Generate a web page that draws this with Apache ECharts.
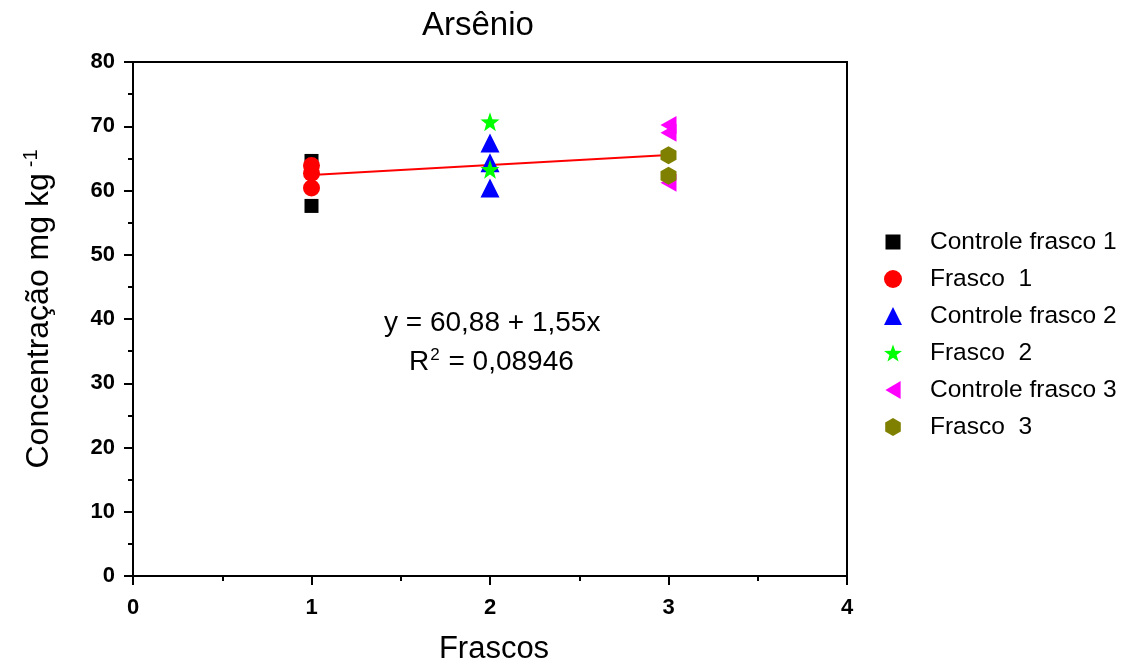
<!DOCTYPE html>
<html>
<head>
<meta charset="utf-8">
<script src="https://cdn.jsdelivr.net/npm/echarts@6/dist/echarts.min.js"></script>
<style>
  html, body { margin: 0; padding: 0; background: #fff; }
  #chart { width: 1129px; height: 668px; }
</style>
</head>
<body>
<div id="chart"></div>
<script>
// Arsenic concentration per flask (mg/kg)
const controleFrasco1 = [[1, 64.6], [1, 57.6]];
const frasco1 = [[1, 63.9], [1, 62.7], [1, 60.4]];
const controleFrasco2 = [[2, 67.4], [2, 64.3], [2, 60.4]];
const frasco2 = [[2, 70.7], [2, 63.3]];
const controleFrasco3 = [[3, 70.2], [3, 69.0], [3, 61.2]];
const frasco3 = [[3, 65.5], [3, 62.3]];

// Linear fit y = a + b·x over the flask range
const fitIntercept = 60.88;
const fitSlope = 1.55;
const fitR2 = '0,08946';
const fitRange = [1, 3];

const xTicks = [0, 1, 2, 3, 4];
const yTicks = [0, 10, 20, 30, 40, 50, 60, 70, 80];

const FONT = '"Liberation Sans", Arial, sans-serif';

const starPath = 'path://M10,0 L12.35,6.76 L19.51,6.91 L13.80,11.24 L15.88,18.09 L10,14 L4.12,18.09 L6.20,11.24 L0.49,6.91 L7.65,6.76 Z';
const hexPath = 'path://M10,0 L18.66,5 L18.66,15 L10,20 L1.34,15 L1.34,5 Z';
const leftTriPath = 'path://M0,10 L17,0 L17,20 Z';
// legend square drawn a little smaller than the icon box
const legendSquare = 'path://M0,0 M1.5,1.5 L16.5,1.5 L16.5,16.5 L1.5,16.5 Z M18,18';

function scatter(name, data, symbol, size, color) {
  return {
    name, type: 'scatter', data, symbol, symbolSize: size,
    itemStyle: { color, opacity: 1 },
    emphasis: { disabled: true },
    z: 3
  };
}

const fitLine = fitRange.map(x => [x, fitIntercept + fitSlope * x]);
const fmt = v => v.toFixed(2).replace('.', ',');

const chart = echarts.init(document.getElementById('chart'), null, { renderer: 'canvas' });
chart.setOption({
  animation: false,
  backgroundColor: '#fff',
  textStyle: { fontFamily: FONT },
  title: {
    text: 'Arsênio',
    left: 417, top: 4,
    textStyle: { fontFamily: FONT, fontSize: 33, fontWeight: 'normal', color: '#000' }
  },
  grid: {
    left: 133, top: 62, right: 282, bottom: 92,
    outerBoundsMode: 'none',
    containLabel: false,
    show: true, borderColor: '#000', borderWidth: 2, backgroundColor: 'transparent'
  },
  legend: {
    orient: 'vertical',
    left: 879, top: 224,
    itemWidth: 18, itemHeight: 18,
    itemGap: 11,
    selectedMode: false,
    data: [
      { name: 'Controle frasco 1', icon: legendSquare },
      'Frasco  1', 'Controle frasco 2', 'Frasco  2', 'Controle frasco 3', 'Frasco  3'
    ],
    textStyle: { fontFamily: FONT, fontSize: 24.5, lineHeight: 26, color: '#000', padding: [0, 0, 0, 23] }
  },
  xAxis: {
    type: 'value', min: xTicks[0], max: xTicks[xTicks.length - 1], interval: 1,
    name: 'Frascos', nameLocation: 'middle', nameGap: 58,
    nameTextStyle: { fontFamily: FONT, fontSize: 31, color: '#000', padding: [0, 0, 0, 8] },
    axisLine: { show: true, onZero: false, lineStyle: { color: '#000', width: 2 } },
    axisTick: { show: true, inside: false, length: 9, lineStyle: { color: '#000', width: 2 } },
    minorTick: { show: true, splitNumber: 2, length: 5, lineStyle: { color: '#000', width: 2 } },
    axisLabel: { fontFamily: FONT, fontSize: 22, fontWeight: 'bold', color: '#000', margin: 21 },
    splitLine: { show: false }
  },
  yAxis: {
    type: 'value', min: yTicks[0], max: yTicks[yTicks.length - 1], interval: 10,
    name: 'Concentração mg kg{sup|-1}', nameLocation: 'middle', nameGap: 76,
    nameTextStyle: {
      fontFamily: FONT, fontSize: 32, color: '#000', padding: [0, 0, 0, 20],
      rich: { sup: { fontFamily: FONT, fontSize: 20, color: '#000', verticalAlign: 'top', padding: [0, 0, 16, 6] } }
    },
    axisLine: { show: true, onZero: false, lineStyle: { color: '#000', width: 2 } },
    axisTick: { show: true, inside: false, length: 9, lineStyle: { color: '#000', width: 2 } },
    minorTick: { show: true, splitNumber: 2, length: 5, lineStyle: { color: '#000', width: 2 } },
    axisLabel: { fontFamily: FONT, fontSize: 22, fontWeight: 'bold', color: '#000', margin: 18 },
    splitLine: { show: false }
  },
  graphic: [
    {
      type: 'text', left: 384, top: 309, z: 10,
      style: { text: 'y = ' + fmt(fitIntercept) + ' + ' + fmt(fitSlope) + 'x', fontFamily: FONT, fontSize: 28, fill: '#000' }
    },
    {
      type: 'text', left: 409, top: 347, z: 10,
      style: {
        text: 'R{sup|2} = ' + fitR2, fontFamily: FONT, fontSize: 28, fill: '#000',
        rich: { sup: { fontFamily: FONT, fontSize: 17, fill: '#000', verticalAlign: 'top', padding: [0, 1, 14, 1] } }
      }
    }
  ],
  series: [
    {
      name: 'fit', type: 'line', data: fitLine, symbol: 'none',
      lineStyle: { color: '#ff0000', width: 2 }, z: 2,
      emphasis: { disabled: true }
    },
    scatter('Controle frasco 1', controleFrasco1, 'rect', 14, '#000000'),
    scatter('Frasco  1', frasco1, 'circle', 17, '#ff0000'),
    scatter('Controle frasco 2', controleFrasco2, 'triangle', 19, '#0000ff'),
    scatter('Frasco  2', frasco2, starPath, 19, '#00ff00'),
    scatter('Controle frasco 3', controleFrasco3, leftTriPath, [16, 18], '#ff00ff'),
    scatter('Frasco  3', frasco3, hexPath, [16, 18], '#808000')
  ]
});
</script>
</body>
</html>
